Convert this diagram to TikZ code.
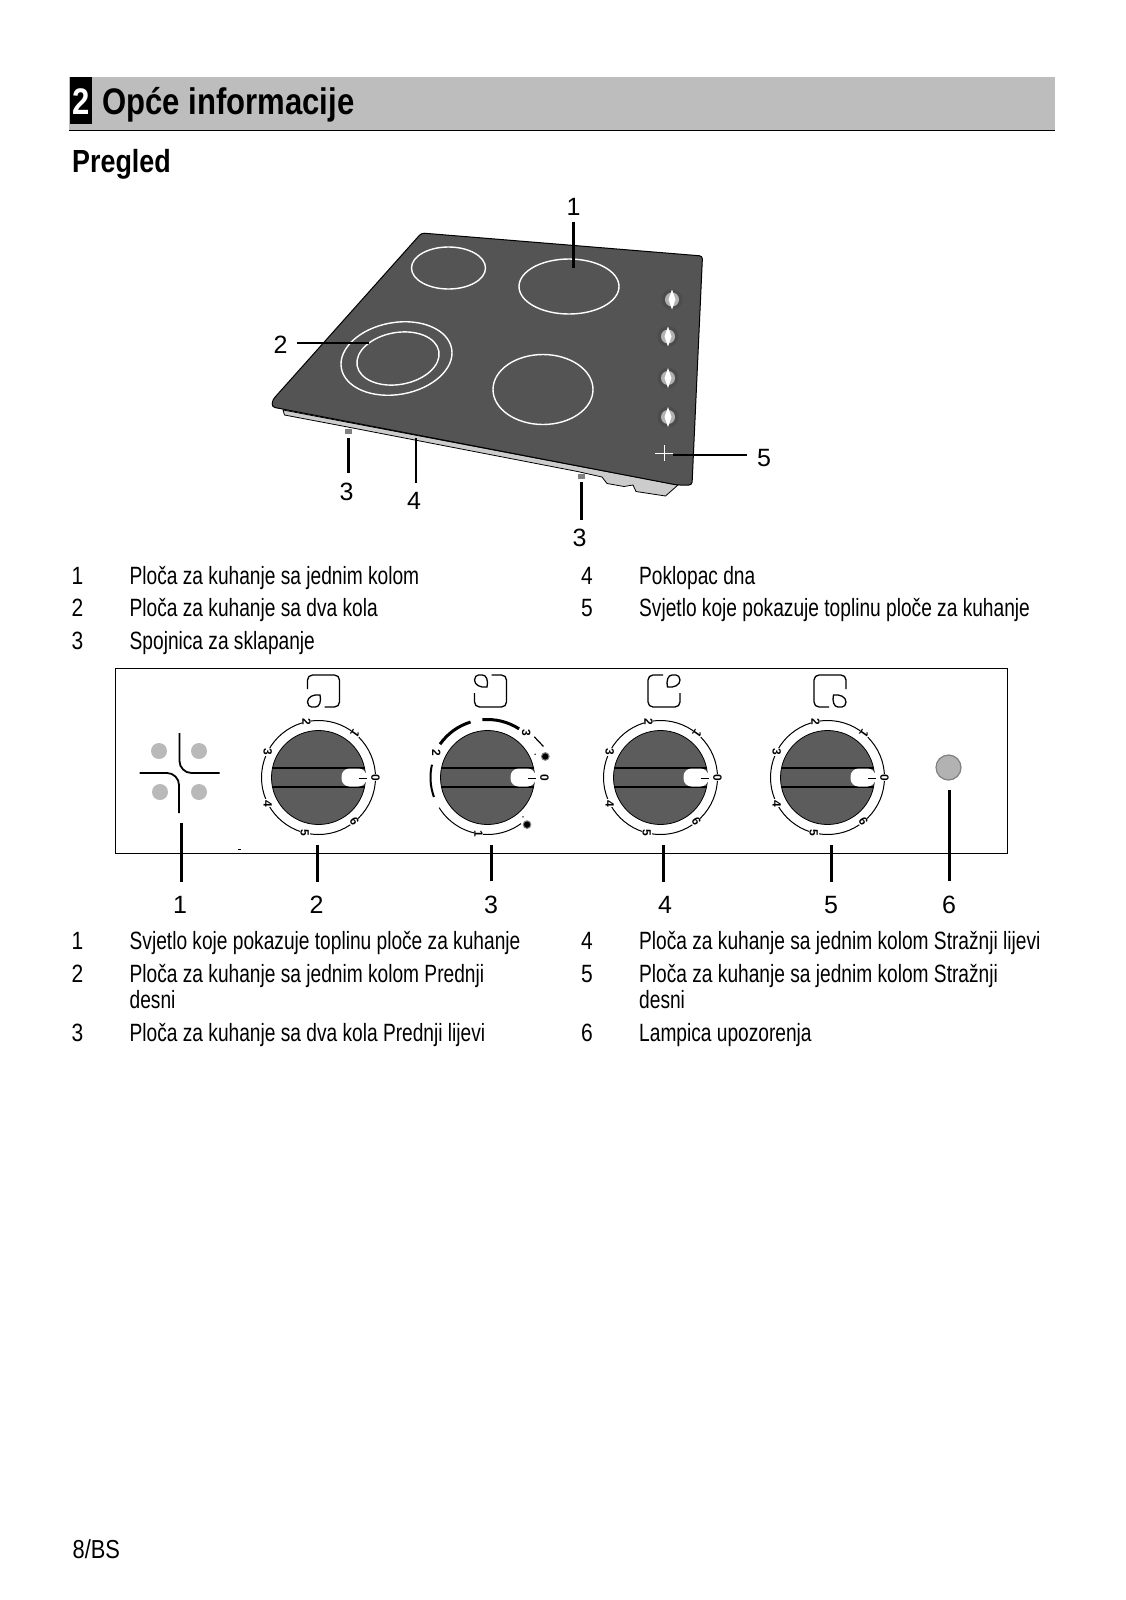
\documentclass[tikz,border=0pt]{standalone}
\usepackage{fontspec}
\setmainfont{Liberation Sans}[FakeStretch=0.766]
\newfontfamily\wide{Liberation Sans}
\newfontfamily\headfont{Liberation Sans}[FakeStretch=0.84]
\usetikzlibrary{positioning}
\definecolor{hobgrey}{gray}{0.33}
\definecolor{bargrey}{gray}{0.74}
\definecolor{knobgrey}{gray}{0.36}
\tikzset{
  callout/.style={font=\wide\fontsize{25}{25}\selectfont, inner sep=0pt},
  row/.style={font=\fontsize{25}{25}\selectfont, anchor=base west, inner sep=0pt},
  rownum/.style={font=\headfont\fontsize{25}{25}\selectfont, anchor=base, inner sep=0pt},
  leader/.style={line width=2.2pt},
  zone/.style={white, line width=1.4pt},
  dialnum/.style={font=\wide\fontsize{12}{12}\selectfont\bfseries, fill=white, inner sep=0.6pt, rotate=-90}
}
% one control knob, named by its centre
\newcommand{\knobface}[1]{
  \filldraw[fill=knobgrey, draw=black, line width=0.8pt] (#1) circle (47);
  \draw[line width=2pt] ([shift={(-46,-9.5)}]#1) to ([shift={(46,-9.5)}]#1);
  \draw[line width=2pt] ([shift={(-46,9.5)}]#1) to ([shift={(46,9.5)}]#1);
  \fill[white, rounded corners=8pt] ([shift={(23,-9)}]#1) rectangle ([shift={(48,9)}]#1);
  \draw[line width=1pt] ([shift={(40,1)}]#1) to ([shift={(48,1)}]#1);
}
\newcommand{\knobscale}[1]{
  \draw[line width=1pt] (#1) circle (57);
  \foreach \a/\t/\r in {0/0/-90,50/1/-125,102/2/-90,153/3/-90,207/4/-90,256/5/-90,309/6/-60}
    \node[dialnum, rotate=\r+90] at ([shift={(-\a:57)}]#1) {\t};
}
% hob symbol, the leaf sits in the corner given by the two signs
\newcommand{\hobicon}[3]{
  \begin{scope}[shift={(#1)}, xscale=#2, yscale=#3]
    \draw[line width=1.3pt, rounded corners=5pt] (-16,-2) -- (-16,-16) -- (16,-16) -- (16,16) -- (1,16);
    \draw[line width=1.3pt] (-3.5,4) .. controls (-10,3) and (-16,6) .. (-16,11)
      .. controls (-16,14) and (-14,16) .. (-12,16) -- (-8,16)
      .. controls (-4,16) and (-2,10) .. (-3.5,4) -- cycle;
  \end{scope}
}
\begin{document}
\begin{tikzpicture}[x=1pt,y=-1pt]
\useasboundingbox (0,0) rectangle (1126,1600);
\fill[white] (0,0) rectangle (1126,1600);

% heading
\fill[bargrey] (69,77) rectangle (1055,130);
\draw[line width=1.6pt] (69,130.5) to (1055,130.5);
\node[fill=black, minimum width=22pt, minimum height=47pt, inner sep=0pt] (secbox) at (81,101) {};
\node[white, font=\headfont\bfseries\fontsize{37}{37}\selectfont, inner sep=0pt] (secnum) at (81,102) {2};
\node[font=\headfont\bfseries\fontsize{37}{37}\selectfont, anchor=base west, inner sep=0pt] (title) at (102,115) {Opće informacije};
\node[font=\headfont\bfseries\fontsize{32}{32}\selectfont, anchor=base west, inner sep=0pt] (sub) at (72,172) {Pregled};

% hob
\filldraw[fill=gray!40, draw=black, line width=0.8pt] (283,410) -- (678,485) -- (665.5,496) -- (636,491.5) -- (633,485) -- (624,486.5)
  -- (607,483.5) -- (602,477) -- (577.5,471.5) -- (345,426.5) -- (284.5,415) -- cycle;
\filldraw[fill=hobgrey, draw=black, rounded corners=3pt, line width=1pt] (421.5,233) -- (702.5,256) -- (692,485) -- (677,485) -- (272,407) -- (272.5,400) -- cycle;
\fill[gray] (345,429) rectangle (352,434);
\fill[gray] (578,474) rectangle (585,479);
\draw[zone] (448.5,268) ellipse [x radius=37, y radius=21];
\draw[zone] (569,286.5) ellipse [x radius=50, y radius=27.5];
\draw[zone, rotate around={10:(396.5,358.5)}] (396.5,358.5) ellipse [x radius=56, y radius=36];
\draw[zone, rotate around={10:(398,358.5)}] (398,358.5) ellipse [x radius=41.5, y radius=26];
\draw[zone] (543,389.5) ellipse [x radius=50, y radius=35];
\foreach \x/\y in {672/299.5,668/336.5,668/378,668/417}
{
  \fill[black!70] (\x,\y) circle (10.5);
  \fill[gray!60] (\x,\y) circle (7);
  \fill[white] (\x,\y-10) -- (\x+3.5,\y) -- (\x,\y+10) -- (\x-3.5,\y) -- cycle;
}
\draw[white, line width=1pt] (655,453) to (673,453);
\draw[white, line width=1pt] (664,445) to (664,461);

% hob callouts
\node[callout] (h1) at (573.5,207) {1};
\node[callout] (h2) at (280.5,345) {2};
\node[callout] (h3) at (346.5,492) {3};
\node[callout] (h4) at (414,500.5) {4};
\node[callout] (h5) at (579.5,538) {3};
\node[callout] (h6) at (764,458.5) {5};
\coordinate (t1) at (573.5,268);
\coordinate (t2) at (369,343);
\coordinate (t3) at (348.5,438);
\coordinate (t4) at (416,438);
\coordinate (t5) at (581.5,482);
\coordinate (t6) at (672.5,455);
\draw[leader, shorten <=6pt] (t1 |- h1.south) to (t1);
\draw[leader, shorten <=9pt] (h2.east |- t2) to (t2);
\draw[leader, shorten <=10pt] (t3 |- h3.north) to (t3);
\draw[leader, shorten <=9pt] (t4 |- h4.north) to (t4);
\draw[leader, shorten <=9pt] (t5 |- h5.north) to (t5);
\draw[leader, shorten <=10pt] (h6.west |- t6) to (t6);

% first list
\foreach \n/\m/\y/\txt in {1/a/584/{Ploča za kuhanje sa jednim kolom},2/b/616.5/{Ploča za kuhanje sa dva kola},3/c/649/{Spojnica za sklapanje}}
{
  \node[rownum] (n\m) at (77.5,\y) {\n};
  \node[row] (r\m) at (129.5,\y) {\txt};
}
\foreach \n/\m/\y/\txt in {4/d/584/{Poklopac dna},5/e/616.5/{Svjetlo koje pokazuje toplinu ploče za kuhanje}}
{
  \node[rownum] (n\m) at (587,\y) {\n};
  \node[row] (r\m) at (639,\y) {\txt};
}

% control strip
\draw[line width=0.9pt] (115,668) rectangle (1007,853);
\fill[black] (238,848.5) rectangle (241,850);
\draw[line width=1.8pt, rounded corners=12pt] (179.5,733) -- (179.5,773) -- (219.5,773);
\draw[line width=1.8pt, rounded corners=12pt] (139.5,773) -- (179,773) -- (179,813);
\foreach \x/\y in {159/751,199/751,160/792,199/792}
  \fill[gray!55] (\x,\y) circle (8);

\coordinate (k2) at (318.5,777.5);
\coordinate (k3) at (487.5,777.5);
\coordinate (k4) at (660.5,777.5);
\coordinate (k5) at (827.5,777.5);
\foreach \k in {k2,k4,k5}
{
  \knobscale{\k}
  \knobface{\k}
}
\knobface{k3}
\hobicon{323.5,691}{1}{1}
\hobicon{490.5,691}{1}{-1}
\hobicon{664,691}{-1}{-1}
\hobicon{830,691}{-1}{1}

% dial of the two-circuit knob
\draw[line width=3pt] ([shift={(-95:58)}]k3) arc [start angle=-95, end angle=-57, radius=58];
\draw[line width=3pt] ([shift={(-145:58)}]k3) arc [start angle=-145, end angle=-107, radius=58];
\draw[line width=2pt] ([shift={(-167:57)}]k3) arc [start angle=-167, end angle=-200, radius=57];
\draw[line width=1pt] ([shift={(-212:57)}]k3) arc [start angle=-212, end angle=-306, radius=57];
\node[dialnum, fill=none] at ([shift={(0:57)}]k3) {0};
\node[dialnum, fill=none] at ([shift={(-49:59)}]k3) {3};
\node[dialnum] at ([shift={(-154:57)}]k3) {2};
\node[dialnum] at ([shift={(-261:57)}]k3) {1};
\draw[line width=1.2pt] ([shift={(-41:62)}]k3) to ([shift={(-29:64)}]k3);
\foreach \a in {-20,-310}
{
  \filldraw[fill=black, draw=gray, line width=1pt] ([shift={(\a:61.5)}]k3) circle (3.8);
}
\fill ([shift={(-26:53)}]k3) circle (0.8);
\fill ([shift={(-312:53)}]k3) circle (0.8);

\filldraw[fill=gray!60, draw=gray, line width=1.2pt] (948.5,767.5) circle (12.5);

% strip callouts
\node[callout] (c1) at (180,905) {1};
\node[callout] (c2) at (316.5,905) {2};
\node[callout] (c3) at (491,905) {3};
\node[callout] (c4) at (665,905) {4};
\node[callout] (c5) at (831,905) {5};
\node[callout] (c6) at (949,905) {6};
\foreach \x/\y [count=\i] in {181.5/823,317.5/845,491.5/845,663.5/845,831.5/845,949.5/790}
{
  \coordinate (u\i) at (\x,\y);
  \draw[leader, shorten <=14.5pt] (c\i.north -| u\i) to (u\i);
}

% second list
\foreach \n/\m/\y/\txt in {1/f/949/{Svjetlo koje pokazuje toplinu ploče za kuhanje},2/g/982/{Ploča za kuhanje sa jednim kolom Prednji},3/h/1041.5/{Ploča za kuhanje sa dva kola Prednji lijevi}}
{
  \node[rownum] (n\m) at (77.5,\y) {\n};
  \node[row] (r\m) at (129.5,\y) {\txt};
}
\node[row] (rg2) at (129.5,1008.5) {desni};
\foreach \n/\m/\y/\txt in {4/i/949/{Ploča za kuhanje sa jednim kolom Stražnji lijevi},5/j/982/{Ploča za kuhanje sa jednim kolom Stražnji},6/k/1041.5/{Lampica upozorenja}}
{
  \node[rownum] (n\m) at (587,\y) {\n};
  \node[row] (r\m) at (639,\y) {\txt};
}
\node[row] (rj2) at (639,1008.5) {desni};

\node[row, font=\headfont\fontsize{26}{26}\selectfont] (foot) at (72.5,1558) {8/BS};
\end{tikzpicture}
\end{document}
